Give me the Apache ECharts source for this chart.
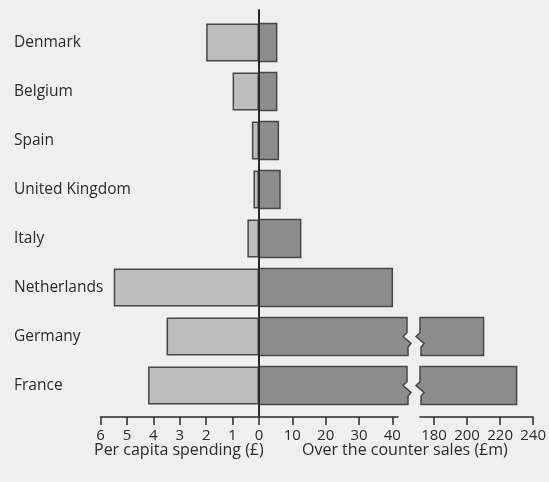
<!DOCTYPE html>
<html>
<head>
<meta charset="utf-8">
<script src="https://cdn.jsdelivr.net/npm/echarts@6/dist/echarts.min.js"></script>
<style>
  html, body { margin: 0; background: #efefef; }
  #chart { width: 549px; height: 482px; }
</style>
</head>
<body>
<div id="chart"></div>
<script>
const countries = ['Denmark', 'Belgium', 'Spain', 'United Kingdom', 'Italy', 'Netherlands', 'Germany', 'France'];
const perCapita = [2.0, 1.0, 0.27, 0.21, 0.44, 5.5, 3.5, 4.2];   // £ per head
const otcSales = [5.3, 5.3, 5.8, 6.3, 12.5, 40, 210, 230];        // £m
const perCapitaTicks = [0, 1, 2, 3, 4, 5, 6];
const lowSalesTicks = [10, 20, 30, 40];
const highSalesTicks = [180, 200, 220, 240];
// the sales axis is broken between these two values
const breakLow = 44.4;
const breakHigh = 171.5;

const chartDom = document.getElementById('chart');
const chart = echarts.init(chartDom);

const theme = {
  light: '#bdbdbd',
  dark: '#8c8c8c',
  edge: '#474747',
  ink: '#2b2b2b',
  font: 'Open Sans'
};

const tickStyle = { show: true, length: 8, lineStyle: { color: theme.ink, width: 1.5 } };
const lineStyle = { show: true, onZero: false, lineStyle: { color: theme.ink, width: 1.5 } };
const labelStyle = { color: theme.ink, fontFamily: theme.font, fontSize: 15, margin: 11 };

// edge of a broken bar, top to bottom
function zigzag(x, t, h) {
  return [[x, t], [x, t + 0.4 * h], [x - 4, t + 0.5 * h], [x + 4, t + 0.68 * h], [x + 1, t + 0.78 * h], [x + 1, t + h]];
}

function barBox(api) {
  const cat = api.value(1);
  const h = api.size([0, 1])[1] * 0.78;
  const yc = api.coord([0, cat])[1];
  return { cat, h, t: yc - h / 2 };
}

const barStyle = { fill: theme.dark, stroke: theme.edge, lineWidth: 1.5 };

function lowPart(params, api) {
  const v = api.value(0);
  const { cat, h, t } = barBox(api);
  const x0 = api.coord([0, cat])[0];
  let pts;
  if (v <= breakLow) {
    const x1 = api.coord([v, cat])[0];
    pts = [[x0, t], [x1, t], [x1, t + h], [x0, t + h]];
  } else {
    const xb = api.coord([breakLow, cat])[0];
    pts = [[x0, t]].concat(zigzag(xb, t, h), [[x0, t + h]]);
  }
  return { type: 'polygon', shape: { points: pts }, style: barStyle };
}

function highPart(params, api) {
  const v = api.value(0);
  if (v < breakHigh) return null;
  const { cat, h, t } = barBox(api);
  const xs = api.coord([breakHigh, cat])[0];
  const x1 = api.coord([v, cat])[0];
  const pts = zigzag(xs, t, h).concat([[x1, t + h], [x1, t]]);
  return { type: 'polygon', shape: { points: pts }, style: barStyle };
}

const salesRows = otcSales.map((v, i) => [v, countries[i]]);

const catAxis = (gridIndex, show) => ({
  type: 'category',
  gridIndex,
  data: countries,
  inverse: true,
  show,
  axisLine: { show: false },
  axisTick: { show: false },
  axisLabel: {
    align: 'left',
    margin: 86.5,
    color: theme.ink,
    fontFamily: theme.font,
    fontSize: 15.5
  }
});

const option = {
  backgroundColor: '#efefef',
  animation: false,
  grid: [
    { left: 100.5, right: 290, top: 18, bottom: 72 },
    { left: 259, right: 151, top: 18, bottom: 72 },
    { left: 420, right: 14, top: 18, bottom: 72 },
    { left: 259, right: 289, top: 10, bottom: 65 }
  ],
  xAxis: [
    {
      type: 'value', gridIndex: 0, inverse: true, min: 0, max: 6,
      offset: 7,
      axisLine: lineStyle,
      axisTick: Object.assign({ customValues: perCapitaTicks }, tickStyle),
      axisLabel: Object.assign({ customValues: perCapitaTicks }, labelStyle),
      splitLine: { show: false }
    },
    {
      type: 'value', gridIndex: 1, min: 0, max: 41.7,
      offset: 7,
      axisLine: lineStyle,
      axisTick: Object.assign({ customValues: lowSalesTicks }, tickStyle),
      axisLabel: Object.assign({ customValues: lowSalesTicks }, labelStyle),
      splitLine: { show: false }
    },
    {
      type: 'value', gridIndex: 2, min: breakHigh, max: 240,
      offset: 7,
      axisLine: lineStyle,
      axisTick: Object.assign({ customValues: highSalesTicks }, tickStyle),
      axisLabel: Object.assign({ customValues: highSalesTicks }, labelStyle),
      splitLine: { show: false }
    },
    { type: 'value', gridIndex: 3, show: false }
  ],
  yAxis: [
    catAxis(0, true),
    catAxis(1, false),
    catAxis(2, false),
    {
      type: 'value', gridIndex: 3, min: 0, max: 1, z: 10,
      axisLine: { show: true, lineStyle: { color: theme.ink, width: 2 } },
      axisTick: { show: false },
      axisLabel: { show: false },
      splitLine: { show: false }
    }
  ],
  graphic: [
    {
      type: 'text', left: 94, top: 442,
      style: { text: 'Per capita spending (£)', fill: theme.ink, font: '16px "Open Sans"' }
    },
    {
      type: 'text', left: 302, top: 442,
      style: { text: 'Over the counter sales (£m)', fill: theme.ink, font: '16px "Open Sans"' }
    }
  ],
  series: [
    {
      type: 'bar',
      xAxisIndex: 0,
      yAxisIndex: 0,
      data: perCapita,
      barWidth: '78%',
      itemStyle: { color: theme.light, borderColor: theme.edge, borderWidth: 1.5 }
    },
    {
      type: 'custom',
      xAxisIndex: 1,
      yAxisIndex: 1,
      data: salesRows,
      encode: { x: 0, y: 1 },
      renderItem: lowPart
    },
    {
      type: 'custom',
      xAxisIndex: 2,
      yAxisIndex: 2,
      data: salesRows,
      encode: { x: 0, y: 1 },
      renderItem: highPart
    }
  ]
};

chart.setOption(option);
</script>
</body>
</html>
